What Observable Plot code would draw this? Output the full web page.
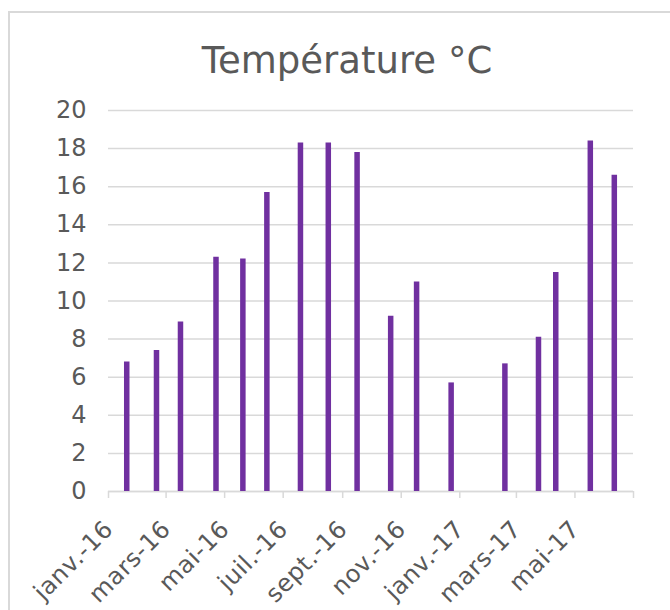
<!DOCTYPE html>
<html><head><meta charset="utf-8">
<script src="https://cdn.jsdelivr.net/npm/d3@7"></script>
<script src="https://cdn.jsdelivr.net/npm/@observablehq/plot@0.6"></script>
<style>
body{margin:0;background:#fff;}
#wrap{position:relative;width:670px;height:610px;overflow:hidden;font-family:"DejaVu Sans",Verdana,sans-serif;}
#frame{position:absolute;left:8px;top:11px;width:700px;height:700px;border-left:2px solid #d9d9d9;border-top:2px solid #d9d9d9;}
#title{position:absolute;left:12px;width:670px;top:42px;line-height:37px;font-size:37px;text-align:center;color:#595959;}
#chart{position:absolute;left:0;top:0;}
.xlab text{letter-spacing:0.6px;}
</style></head><body>
<div id="wrap"><div id="frame"></div><div id="title">Température °C</div><div id="chart"></div></div>
<script>
const dates = ["2016-01-20","2016-02-20","2016-03-16","2016-04-22","2016-05-20","2016-06-14","2016-07-19","2016-08-17","2016-09-16","2016-10-21","2016-11-17","2016-12-23","2017-02-17","2017-03-24","2017-04-11","2017-05-17","2017-06-11"];
const temps = [6.8, 7.4, 8.9, 12.3, 12.2, 15.7, 18.3, 18.3, 17.8, 9.2, 11.0, 5.7, 6.7, 8.1, 11.5, 18.4, 16.6];
const tickDates = ["2016-01-01","2016-03-01","2016-05-01","2016-07-01","2016-09-01","2016-11-01","2017-01-01","2017-03-01","2017-05-01","2017-07-01"];
const tickLabels = ["janv.-16","mars-16","mai-16","juil.-16","sept.-16","nov.-16","janv.-17","mars-17","mai-17",""];
const yTicks = [0,2,4,6,8,10,12,14,16,18,20];

const parse = d3.utcParse("%Y-%m-%d");
const data = dates.map((d,i)=>({date: parse(d), t: temps[i]}));
const ticks = tickDates.map((d,i)=>({date: parse(d), label: tickLabels[i]}));
const tickObjs = ticks.map(d=>d.date);

const plot = Plot.plot({
  width:670, height:610, marginLeft:108, marginRight:37, marginTop:110, marginBottom:119,
  style:{fontFamily:"'DejaVu Sans', Verdana, sans-serif", fontSize:"24px", color:"#595959", background:"transparent", overflow:"visible"},
  x:{type:"utc", domain:[tickObjs[0], tickObjs[tickObjs.length-1]]},
  y:{domain:[0,20]},
  marks:[
    Plot.gridY(yTicks, {stroke:"#d9d9d9", strokeOpacity:1, strokeWidth:1.5}),
    Plot.axisY(yTicks, {tickSize:0, tickPadding:22, fontSize:24, fill:"#595959", label:null}),
    Plot.axisX(tickObjs, {tickSize:7, stroke:"#d9d9d9", strokeOpacity:1, strokeWidth:1.5, tickFormat:()=>"", label:null}),
    Plot.ruleY([0], {stroke:"#d9d9d9", strokeWidth:1.5}),
    Plot.ruleX(data, {x:"date", y1:0, y2:"t", stroke:"#7030A0", strokeWidth:5.5}),
    Plot.text(ticks, {x:"date", frameAnchor:"bottom", text:"label", rotate:-45, textAnchor:"end", dx:6, dy:39, fontSize:24, fill:"#595959", className:"xlab"})
  ]
});
document.getElementById("chart").appendChild(plot);
</script>
</body></html>
